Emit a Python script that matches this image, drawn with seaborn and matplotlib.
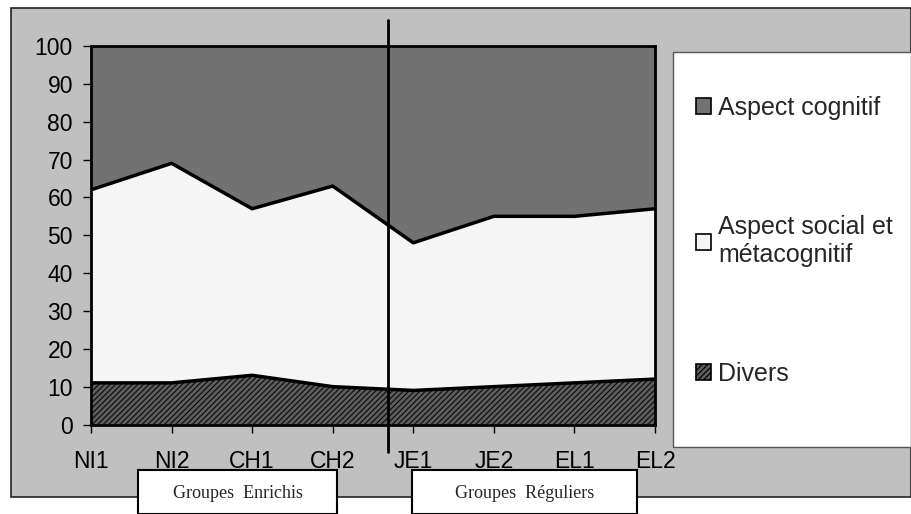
import pandas as pd
import matplotlib
matplotlib.use("Agg")
import matplotlib.pyplot as plt
import seaborn as sns
from matplotlib.patches import Rectangle, Patch

groupes = ["NI1", "NI2", "CH1", "CH2", "JE1", "JE2", "EL1", "EL2"]
divers = [11, 11, 13, 10, 9, 10, 11, 12]
social = [51, 58, 44, 53, 39, 45, 44, 45]
cognitif = [38, 31, 43, 37, 52, 45, 45, 43]
series_labels = ["Aspect cognitif", "Aspect social et\nmétacognitif", "Divers"]
group_labels = ["Groupes  Enrichis", "Groupes  Réguliers"]

sns.set_theme(style="white")
plt.rcParams["font.family"] = ["Liberation Sans", "DejaVu Sans"]
plt.rcParams["hatch.linewidth"] = 0.9

df = pd.DataFrame({"groupe": groupes, "divers": divers, "social": social, "cognitif": cognitif})
df["x"] = range(len(df))
df["cum_divers"] = df["divers"]
df["cum_social"] = df["divers"] + df["social"]

fig = plt.figure(figsize=(9.12, 5.14), dpi=100)
W, H = 912, 514

# outer grey chart area
fig.patches.append(Rectangle((11 / W, 1 - 497 / H), 900 / W, 489 / H, transform=fig.transFigure,
                             facecolor="#c0c0c0", edgecolor="#222222", linewidth=1.2, zorder=0))
# legend box
fig.patches.append(Rectangle((673 / W, 1 - 447 / H), 238 / W, 395 / H, transform=fig.transFigure,
                             facecolor="white", edgecolor="#555555", linewidth=1.0, zorder=1))

ax = fig.add_axes([91 / W, 1 - 424.5 / H, 564 / W, 378.5 / H])
ax.set_zorder(4)
ax.set_facecolor("none")

polys = ax.stackplot(df["x"], df["divers"], df["social"], df["cognitif"],
                     colors=["#5e5e5e", "#f5f5f5", "#727272"], linewidth=0)
polys[0].set_hatch("//////")
polys[0].set_edgecolor("#111111")
polys[0].set_linewidth(0)

sns.lineplot(data=df, x="x", y="cum_divers", color="black", linewidth=2.5, ax=ax, legend=False)
sns.lineplot(data=df, x="x", y="cum_social", color="black", linewidth=2.5, ax=ax, legend=False)

ax.set_xlim(0, len(groupes) - 1)
ax.set_ylim(0, 100)
ax.set_yticks(range(0, 101, 10))
ax.set_xticks(df["x"])
ax.set_xticklabels(groupes)
ax.set_xlabel("")
ax.set_ylabel("")
ax.tick_params(axis="both", labelsize=16.5, colors="black", length=6, width=1, direction="out",
               bottom=True, left=True)
ax.tick_params(axis="y", pad=7)
ax.tick_params(axis="x", pad=12)
for s in ax.spines.values():
    s.set_visible(True)
    s.set_color("black")
    s.set_linewidth(2)

# separator between the two groups
ax.axvline(3.68, ymin=-0.073, ymax=1.069, color="black", linewidth=2, clip_on=False)

# group captions
for x0, w, lab in [(138, 199, group_labels[0]), (412, 225, group_labels[1])]:
    fig.patches.append(Rectangle((x0 / W, 0), w / W, 44 / H, transform=fig.transFigure,
                                 facecolor="white", edgecolor="black", linewidth=1.5, zorder=2))
    fig.text((x0 + w / 2) / W, 1 - 493 / H, lab, ha="center", va="center", fontsize=13,
             family=["Liberation Serif", "DejaVu Serif"], zorder=3)

handles = [
    Patch(facecolor="#727272", edgecolor="black", linewidth=1.2),
    Patch(facecolor="#f5f5f5", edgecolor="black", linewidth=1.2),
    Patch(facecolor="#5e5e5e", edgecolor="black", linewidth=1.2, hatch="//////"),
]
fig.legend(handles, series_labels, loc="upper left", bbox_to_anchor=(686 / W, 1 - 86 / H),
           frameon=False, fontsize=18, handlelength=0.6, handleheight=0.6, handletextpad=0.3,
           labelspacing=3.8, borderaxespad=0)

fig.savefig("out.png", dpi=100)
plt.close(fig)
